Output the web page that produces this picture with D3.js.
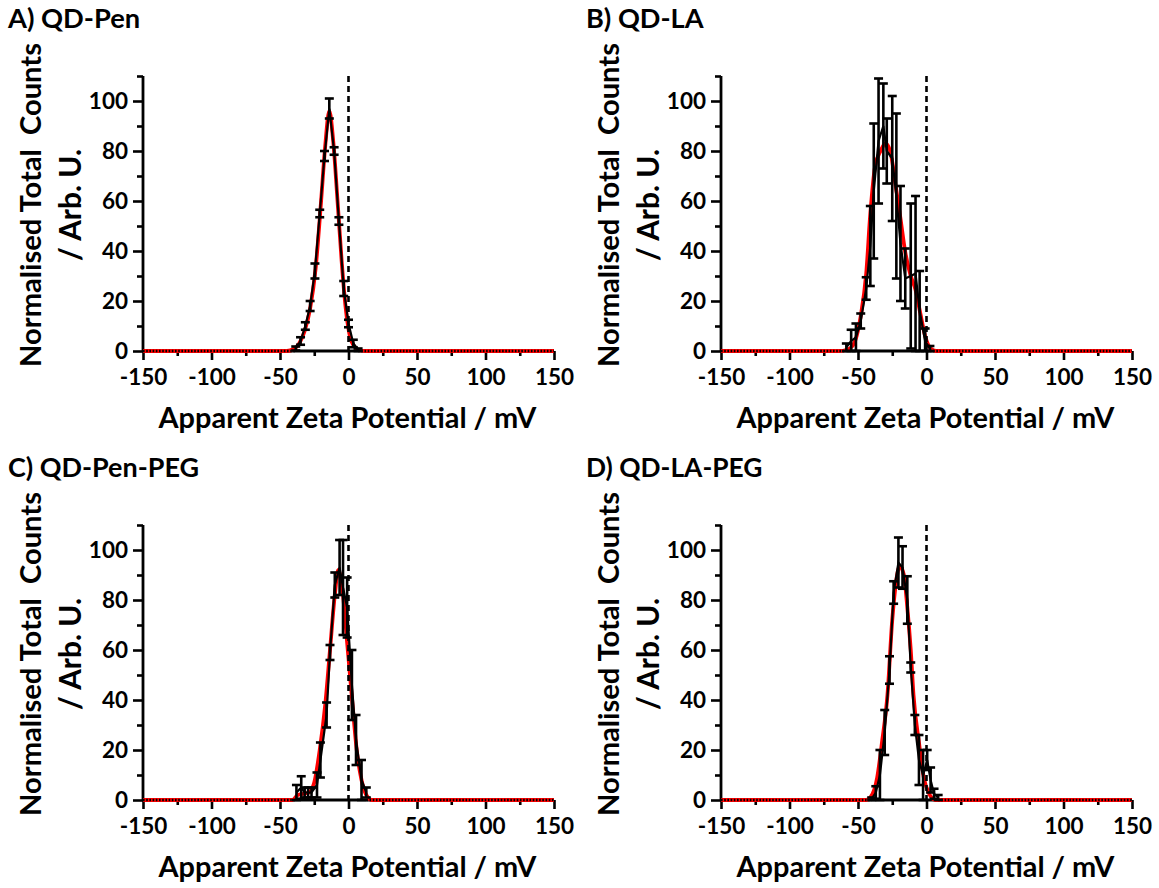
<!DOCTYPE html>
<html>
<head>
<meta charset="utf-8">
<script src="https://cdn.jsdelivr.net/npm/d3@7"></script>
<style>
  body { margin: 0; background: #fff; }
  text { font-family: Lato, "Open Sans", sans-serif; font-weight: bold; fill: #000; }
</style>
</head>
<body>
<svg id="chart" width="1159" height="888"></svg>
<script>
// axis ticks
const xTicks = [-150, -100, -50, 0, 50, 100, 150];
const xMinorTicks = [-125, -75, -25, 25, 75, 125];
const yTicks = [0, 20, 40, 60, 80, 100];
const yMinorTicks = [10, 30, 50, 70, 90, 110];
const titles = ["A) QD-Pen", "B) QD-LA", "C) QD-Pen-PEG", "D) QD-LA-PEG"];

// A) QD-Pen
const penX    = [-38.5, -35, -31.5, -28, -24.5, -21, -17.5, -14, -10.5, -7, -3.5, 0, 3.5, 7];
const penMean = [1, 4, 10, 18, 32, 55, 78, 97, 80, 52, 25, 11, 3, 0.5];
const penErr  = [0.8, 1.5, 1.5, 2, 3, 1.5, 2, 4, 1.5, 1.5, 3, 1.5, 1.5, 0.5];
const penFitX = [-150, -45, -40, -36, -32, -28, -24, -20, -17, -14, -11, -8, -5, -2, 1, 4, 8, 12, 150];
const penFitY = [0, 0, 0.8, 3, 8, 17, 33, 60, 82, 96, 83, 60, 36, 17, 6, 2, 0.3, 0, 0];

// B) QD-LA
const laX    = [-58.5, -55, -51.5, -48, -44, -41, -38.5, -35, -31.5, -29, -25, -22, -19, -15.5, -11.5, -8, -5, -1, 2.5];
const laMean = [1.5, 4, 5.5, 12, 25, 42, 64, 84, 90, 80, 77, 62, 43, 29, 30, 31, 16, 4, 1];
const laErr  = [1.5, 4.5, 5.5, 3, 4.5, 16, 27, 25, 17, 13, 25, 33, 23, 12, 29, 31, 16, 5, 1];
const laFitX = [-150, -64, -58, -54, -51, -48, -44, -41, -37.5, -33.5, -30, -26.5, -22.5, -19, -15.5, -11.5, -8, -4.5, -1, 3, 7, 150];
const laFitY = [0, 0, 0.5, 2, 6, 14, 31, 55, 74, 80, 83, 80, 66, 53, 39.5, 30, 24.5, 15, 6, 1, 0, 0];

// C) QD-Pen-PEG
const pegX    = [-38, -34.5, -32, -29.5, -27, -23, -20.5, -16, -13.5, -10, -6.5, -4, -1, 2.5, 5.5, 9.5, 13];
const pegMean = [3, 5, 3, 3, 3, 6, 16, 34, 59, 86, 93, 85, 77, 46, 24, 8, 3];
const pegErr  = [3, 4.5, 2, 2, 2, 5, 7, 5, 3, 5, 11, 19, 12, 14, 10, 8, 2];
const pegFitX = [-150, -41, -37, -33, -29, -25, -21, -17, -13.5, -10, -7.5, -4, -1, 2.5, 6, 9.5, 13, 17, 150];
const pegFitY = [0, 0, 2, 2.5, 3, 7, 20, 38, 60, 82, 92, 82, 63, 41, 20, 8, 2, 0, 0];

// D) QD-LA-PEG
const laPegX    = [-40, -37, -34, -30.5, -27, -24, -20.5, -17.5, -14, -11.5, -8.5, -5.5, -2.5, 0.5, 3, 5.5, 8.5];
const laPegMean = [0.5, 3, 10, 27, 52, 83, 95, 93, 80, 53, 30, 16, 10, 16, 8, 2.5, 1];
const laPegErr  = [0.5, 2.5, 10, 9, 5.5, 4.5, 10, 8.5, 9.5, 2, 4, 10, 10, 4, 5, 2, 1];
const laPegFitX = [-150, -44, -41, -36, -32.5, -28.5, -25, -22.5, -19.5, -16.5, -14, -11.5, -9.5, -5.5, -2, 1.5, 6.5, 150];
const laPegFitY = [0, 0, 1, 9, 23, 42, 72, 86, 93.5, 90, 77, 60, 42, 23, 9, 3, 0, 0];

const panels = [
  { title: titles[0], x: penX, mean: penMean, err: penErr, fitX: penFitX, fitY: penFitY, dx: 0, dy: 0 },
  { title: titles[1], x: laX, mean: laMean, err: laErr, fitX: laFitX, fitY: laFitY, dx: 578, dy: 0 },
  { title: titles[2], x: pegX, mean: pegMean, err: pegErr, fitX: pegFitX, fitY: pegFitY, dx: 0, dy: 449 },
  { title: titles[3], x: laPegX, mean: laPegMean, err: laPegErr, fitX: laPegFitX, fitY: laPegFitY, dx: 578, dy: 449 }
];

const svg = d3.select("#chart");
const plotLeft = 143, plotRight = 554, plotTop = 76, plotBottom = 351;

// fit a text to a target width by adjusting font size
function fitText(sel, target) {
  const w = sel.node().getComputedTextLength();
  const fs = parseFloat(sel.attr("font-size"));
  sel.attr("font-size", (fs * target / w).toFixed(2));
}

panels.forEach(p => {
  const g = svg.append("g").attr("transform", `translate(${p.dx},${p.dy})`);

  const x = d3.scaleLinear().domain([-150, 150]).range([plotLeft, plotRight]);
  const y = d3.scaleLinear().domain([0, 110]).range([plotBottom, plotTop]);

  // title
  const t = g.append("text").attr("x", 8).attr("y", 28).attr("font-size", 24).text(p.title);
  fitText(t, 135 * p.title.length / 9 * 0.98);

  // x axis
  const xAxis = g.append("g").attr("transform", `translate(0,${plotBottom})`)
    .call(d3.axisBottom(x).tickValues(xTicks).tickSize(9).tickPadding(9).tickFormat(d => String(d)));
  g.append("g").attr("transform", `translate(0,${plotBottom})`)
    .call(d3.axisBottom(x).tickValues(xMinorTicks).tickSize(5).tickFormat(""))
    .call(a => a.select(".domain").remove());

  // y axis
  const yAxis = g.append("g").attr("transform", `translate(${plotLeft},0)`)
    .call(d3.axisLeft(y).tickValues(yTicks).tickSize(10).tickPadding(5));
  g.append("g").attr("transform", `translate(${plotLeft},0)`)
    .call(d3.axisLeft(y).tickValues(yMinorTicks).tickSize(6).tickFormat(""))
    .call(a => a.select(".domain").remove());

  g.selectAll(".domain").attr("stroke", "#000").attr("stroke-width", 2.8);
  g.selectAll(".tick line").attr("stroke", "#000").attr("stroke-width", 2.6);
  g.selectAll(".tick text").attr("font-size", 22.5).attr("font-family", "Lato, sans-serif")
    .attr("font-weight", "bold").attr("fill", "#000");
  xAxis.selectAll(".domain").attr("d", `M${plotLeft},0H${plotRight}`);
  yAxis.selectAll(".domain").attr("d", `M0,${plotBottom}V${plotTop}`);

  // axis titles
  const xt = g.append("text").attr("x", (plotLeft + plotRight) / 2 - 1).attr("y", 428)
    .attr("text-anchor", "middle").attr("font-size", 26).text("Apparent Zeta Potential / mV");
  fitText(xt, 378);

  const yl1 = g.append("text").attr("transform", `translate(41,205) rotate(-90)`)
    .attr("text-anchor", "middle").attr("font-size", 27)
    .style("white-space", "pre").text("Normalised Total  Counts");
  fitText(yl1, 324);
  const yl2 = g.append("text").attr("transform", `translate(81,205) rotate(-90)`)
    .attr("text-anchor", "middle").attr("font-size", 27).text("/ Arb. U.");
  fitText(yl2, 112);

  // red fit curve
  const fitPts = p.fitX.map((v, i) => [v, p.fitY[i]]);
  g.append("path").datum(fitPts)
    .attr("fill", "none").attr("stroke", "#ff0000").attr("stroke-width", 3.8)
    .attr("stroke-linejoin", "round")
    .attr("d", d3.line().x(d => x(d[0])).y(d => y(d[1])).curve(d3.curveMonotoneX));

  // dotted baseline of the measured data outside the peak
  const first = p.x[0], last = p.x[p.x.length - 1];
  [[x.domain()[0], first], [last, x.domain()[1]]].forEach(seg => {
    g.append("line")
      .attr("x1", x(seg[0])).attr("x2", x(seg[1]))
      .attr("y1", y(0)).attr("y2", y(0))
      .attr("stroke", "#000").attr("stroke-width", 2.4).attr("stroke-dasharray", "1.6,1.6");
  });

  // mean line
  const pts = p.x.map((v, i) => ({ v: v, m: p.mean[i], e: p.err[i] }));
  g.append("path").datum(pts)
    .attr("fill", "none").attr("stroke", "#000").attr("stroke-width", 2.2)
    .attr("d", d3.line().x(d => x(d.v)).y(d => y(d.m)));

  // error bars
  const eb = g.append("g").attr("stroke", "#000").attr("stroke-width", 2.6);
  eb.selectAll(".v").data(pts).join("line")
    .attr("x1", d => x(d.v)).attr("x2", d => x(d.v))
    .attr("y1", d => y(Math.max(0, d.m - d.e))).attr("y2", d => y(d.m + d.e));
  eb.selectAll(".ct").data(pts).join("line")
    .attr("x1", d => x(d.v) - 4.5).attr("x2", d => x(d.v) + 4.5)
    .attr("y1", d => y(d.m + d.e)).attr("y2", d => y(d.m + d.e));
  eb.selectAll(".cb").data(pts).join("line")
    .attr("x1", d => x(d.v) - 4.5).attr("x2", d => x(d.v) + 4.5)
    .attr("y1", d => y(Math.max(0, d.m - d.e))).attr("y2", d => y(Math.max(0, d.m - d.e)));

  // zero reference line
  g.append("line")
    .attr("x1", x(0)).attr("x2", x(0)).attr("y1", plotTop).attr("y2", plotBottom)
    .attr("stroke", "#000").attr("stroke-width", 2.6).attr("stroke-dasharray", "6,4");
});
</script>
</body>
</html>
